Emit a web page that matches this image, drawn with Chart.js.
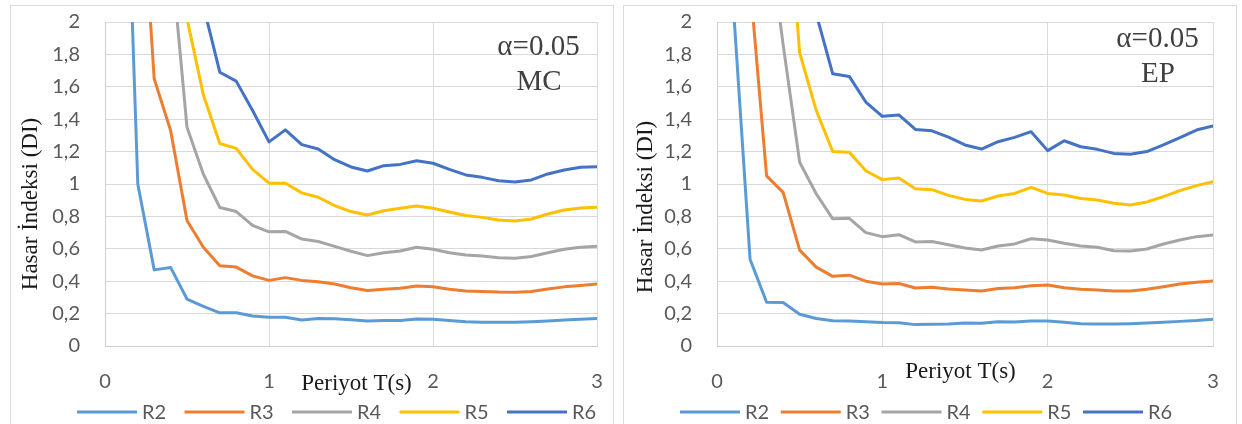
<!DOCTYPE html>
<html><head><meta charset="utf-8">
<script src="https://cdn.jsdelivr.net/npm/chart.js@4.4.1/dist/chart.umd.min.js"></script>
<style>
html,body{margin:0;padding:0;background:#fff;width:1242px;height:424px;overflow:hidden;}
.panel{position:absolute;border:1px solid #d9d9d9;box-sizing:border-box;background:#fff;}
canvas{position:absolute;}
</style></head><body>
<div class="panel" style="left:10px;top:5px;width:604px;height:440px"></div>
<div class="panel" style="left:623px;top:5px;width:614px;height:440px"></div>
<canvas id="c1" width="603" height="416" style="left:10px;top:5px"></canvas>
<canvas id="c2" width="614" height="416" style="left:623px;top:5px"></canvas>
<script>
// ---- data ----
const periods = [0.1,0.2,0.3,0.4,0.5,0.6,0.7,0.8,0.9,1.0,1.1,1.2,1.3,1.4,1.5,1.6,1.7,1.8,1.9,2.0,2.1,2.2,2.3,2.4,2.5,2.6,2.7,2.8,2.9,3.0];
const seriesNames = ['R2','R3','R4','R5','R6'];
const seriesColors = ['#5B9BD5','#ED7D31','#A5A5A5','#FFC000','#4472C4'];
const yTickLabels = ['0','0,2','0,4','0,6','0,8','1','1,2','1,4','1,6','1,8','2'];
const xTickLabels = ['0','1','2','3'];

// MC panel
const mcR2 = [4.0,1.0,0.47,0.485,0.29,0.245,0.205,0.205,0.185,0.177,0.178,0.16,0.17,0.168,0.162,0.155,0.157,0.158,0.166,0.165,0.158,0.15,0.147,0.146,0.146,0.15,0.155,0.16,0.165,0.17];
const mcR3 = [null,3.2,1.65,1.33,0.775,0.61,0.495,0.487,0.433,0.405,0.422,0.405,0.396,0.383,0.36,0.342,0.35,0.356,0.37,0.366,0.35,0.34,0.337,0.333,0.332,0.336,0.352,0.365,0.373,0.383];
const mcR4 = [null,null,null,2.45,1.35,1.06,0.855,0.83,0.745,0.705,0.707,0.66,0.645,0.615,0.585,0.558,0.576,0.586,0.61,0.597,0.576,0.562,0.556,0.545,0.541,0.553,0.576,0.597,0.609,0.615];
const mcR5 = [null,null,null,null,2.02,1.55,1.25,1.22,1.09,1.005,1.005,0.945,0.918,0.866,0.83,0.809,0.835,0.85,0.864,0.85,0.827,0.805,0.794,0.778,0.772,0.784,0.815,0.84,0.852,0.856];
const mcR6 = [null,null,null,null,null,2.1,1.69,1.635,1.454,1.26,1.334,1.243,1.216,1.15,1.105,1.08,1.113,1.121,1.144,1.128,1.09,1.056,1.041,1.02,1.012,1.025,1.062,1.086,1.103,1.107];

// EP panel
const epR2 = [2.08,0.536,0.27,0.268,0.196,0.17,0.156,0.155,0.149,0.145,0.144,0.132,0.135,0.136,0.142,0.14,0.15,0.148,0.154,0.154,0.146,0.137,0.136,0.136,0.138,0.142,0.146,0.152,0.157,0.165];
const epR3 = [null,2.24,1.05,0.948,0.592,0.487,0.43,0.437,0.4,0.383,0.386,0.358,0.362,0.352,0.346,0.34,0.355,0.36,0.372,0.377,0.36,0.35,0.346,0.34,0.34,0.35,0.366,0.383,0.393,0.401];
const epR4 = [null,null,2.64,1.86,1.134,0.94,0.785,0.788,0.70,0.675,0.687,0.642,0.645,0.625,0.605,0.593,0.617,0.63,0.662,0.654,0.634,0.617,0.609,0.588,0.586,0.599,0.63,0.654,0.675,0.685];
const epR5 = [null,null,null,3.14,1.81,1.455,1.2,1.196,1.082,1.027,1.037,0.97,0.965,0.93,0.905,0.895,0.926,0.942,0.979,0.942,0.932,0.911,0.901,0.881,0.87,0.889,0.922,0.959,0.99,1.014];
const epR6 = [null,null,null,null,null,2.05,1.68,1.664,1.506,1.418,1.426,1.337,1.328,1.289,1.241,1.216,1.261,1.288,1.323,1.206,1.267,1.23,1.214,1.189,1.183,1.2,1.241,1.286,1.333,1.358];

const yTitle = 'Hasar İndeksi (DI)';
const xTitle = 'Periyot T(s)';
const alphaText = 'α=0.05';

// ---- drawing ----
const tickFont = 'Lato, "Liberation Sans", sans-serif';
const serifFont = '"Liberation Serif", "Times New Roman", serif';
const gridCol = '#d9d9d9';

const extras = {
  id: 'extras',
  afterDraw(chart, args, o) {
    const ctx = chart.ctx;
    ctx.save();
    ctx.fillStyle = '#1a1a1a';
    ctx.font = '23px ' + serifFont;
    ctx.textAlign = 'center';
    ctx.textBaseline = 'middle';
    ctx.save();
    ctx.translate(o.yTitle[0], o.yTitle[1]);
    ctx.rotate(-Math.PI / 2);
    ctx.fillText(yTitle, 0, 0);
    ctx.restore();
    ctx.textBaseline = 'alphabetic';
    ctx.fillText(xTitle, o.xTitle[0], o.xTitle[1]);
    ctx.fillStyle = '#404040';
    ctx.font = '29px ' + serifFont;
    ctx.fillText(alphaText, o.alpha[0], o.alpha[1]);
    ctx.fillText(o.tag, o.tagPos[0], o.tagPos[1]);
    ctx.font = '20px ' + tickFont;
    ctx.textAlign = 'left';
    ctx.textBaseline = 'middle';
    chart.data.datasets.forEach((ds, i) => {
      const x0 = o.legStart + i * o.legStep;
      ctx.strokeStyle = ds.borderColor;
      ctx.lineWidth = 3;
      ctx.lineCap = 'butt';
      ctx.beginPath();
      ctx.moveTo(x0, o.legY);
      ctx.lineTo(x0 + 60, o.legY);
      ctx.stroke();
      ctx.fillStyle = '#595959';
      ctx.fillText(ds.label, x0 + 65, o.legY + 1);
    });
    ctx.restore();
  }
};

function makeChart(id, series, yWidth, padRight, ex) {
  const datasets = series.map((vals, i) => ({
    label: seriesNames[i],
    data: periods.map((p, k) => ({ x: p, y: vals[k] })),
    borderColor: seriesColors[i],
    backgroundColor: seriesColors[i],
    borderWidth: 3,
    pointRadius: 0,
    tension: 0,
    borderJoinStyle: 'round',
    borderCapStyle: 'round',
    spanGaps: false
  }));
  return new Chart(document.getElementById(id), {
    type: 'line',
    data: { datasets },
    plugins: [extras],
    options: {
      responsive: false,
      animation: false,
      devicePixelRatio: 1,
      layout: { padding: { top: 17, right: padRight, bottom: 0, left: 0 } },
      plugins: { legend: { display: false }, tooltip: { enabled: false }, extras: ex },
      scales: {
        x: {
          type: 'linear', min: 0, max: 3,
          ticks: { stepSize: 1, padding: 24, color: '#595959', font: { family: tickFont, size: 20 },
                   callback: (v, i) => xTickLabels[i] },
          grid: { color: gridCol, lineWidth: 1, drawTicks: false },
          border: { color: '#cfcfcf', width: 1 },
          afterFit: (s) => { s.height = 75; s.paddingLeft = 0; s.paddingRight = 0; }
        },
        y: {
          type: 'linear', min: 0, max: 2,
          ticks: { stepSize: 0.2, padding: 25, color: '#595959', font: { family: tickFont, size: 20 },
                   callback: (v, i) => yTickLabels[i] },
          grid: { color: gridCol, lineWidth: 1, drawTicks: false },
          border: { color: '#cfcfcf', width: 1 },
          afterFit: (s) => { s.width = yWidth; s.paddingTop = 0; s.paddingBottom = 0; }
        }
      }
    }
  });
}

makeChart('c1', [mcR2, mcR3, mcR4, mcR5, mcR6], 95, 16, {
  yTitle: [20.5, 199], xTitle: [346.5, 385], alpha: [528.5, 50], tag: 'MC', tagPos: [529, 85],
  legStart: 67, legStep: 107.5, legY: 407
});
makeChart('c2', [epR2, epR3, epR4, epR5, epR6], 94, 24, {
  yTitle: [22.5, 202], xTitle: [337.5, 373], alpha: [534.5, 42], tag: 'EP', tagPos: [535, 77],
  legStart: 57, legStep: 100.75, legY: 407
});
</script>
</body></html>
